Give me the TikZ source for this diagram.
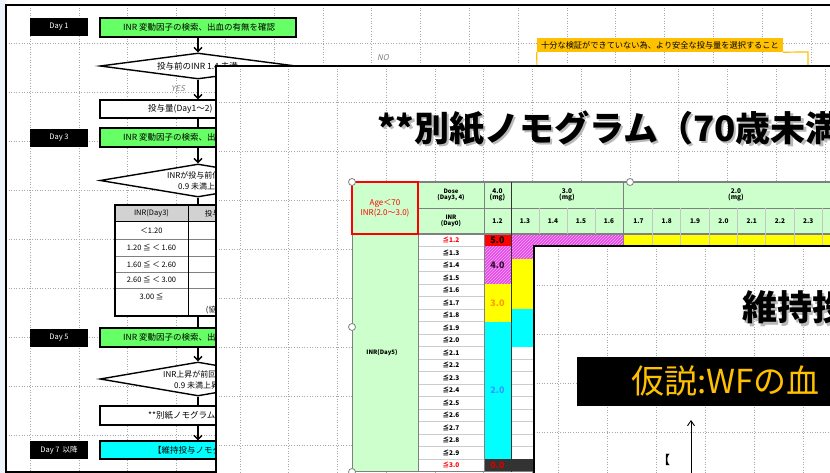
\documentclass[tikz,border=0pt]{standalone}
\usepackage{fontspec}
\setmainfont{Noto Sans CJK JP}
\newfontfamily\slantfont{Noto Sans CJK JP}[FakeSlant=0.22]
\usetikzlibrary{shapes.geometric,arrows.meta,patterns}
\newcommand\fsz[1]{\fontsize{#1}{#1}\selectfont}
\definecolor{lgreen}{HTML}{66FF66}
\definecolor{tgreen}{HTML}{CCFFCC}
\definecolor{gold}{HTML}{FFC000}
\definecolor{mag}{HTML}{E648E6}
\definecolor{cyanc}{HTML}{00FFFF}
\definecolor{yel}{HTML}{FFFF00}
\definecolor{gridc}{HTML}{A8A8A8}
\definecolor{darkc}{HTML}{333333}
\definecolor{leftblue}{HTML}{EEF3FB}
\definecolor{tline}{HTML}{808080}
\definecolor{ored}{HTML}{FF9900}
\definecolor{bblue}{HTML}{3399FF}
\begin{document}
\begin{tikzpicture}[x=1pt,y=-1pt,
  daybox/.style={fill=black,text=white,minimum width=58pt,minimum height=18pt,inner sep=0pt,font=\fsz{7.5}},
  flowbox/.style={draw=black,line width=1.4pt,minimum width=196pt,minimum height=19pt,inner sep=0pt},
  greenbox/.style={flowbox,fill=lgreen},
  whitebox/.style={flowbox,fill=white},
  cyanbox/.style={flowbox,fill=cyanc},
  decision/.style={diamond,draw=black,line width=1.4pt,fill=white,minimum width=196pt,inner sep=0pt},
  ftxt/.style={font=\fsz{8.5},inner sep=0pt,anchor=west},
  ttxt/.style={font=\fsz{7.5},inner sep=0pt},
  flowarrow/.style={line width=1.4pt,-{Straight Barb[length=4pt,width=8pt]}},
  flowline/.style={line width=1.4pt},
  gridline/.style={gridc,dotted,line width=0.6pt},
  yn/.style={font=\fsz{8}\slantfont,text=gray,inner sep=0pt},
  rowlab/.style={font=\fsz{6.5}\bfseries,inner sep=0pt},
  hd/.style={font=\fsz{6.5}\bfseries,inner sep=0pt},
  val/.style={font=\fsz{9}\bfseries,inner sep=0pt},
  handle/.style={draw=gray,fill=white,line width=0.8pt},
  bigtitle/.style={font=\fsz{35}\bfseries,inner sep=0pt,anchor=west}
]
\useasboundingbox (0,0) rectangle (830,473);
\fill[white] (0,0) rectangle (830,473);
\fill[leftblue] (0,0) rectangle (6,473);

% ---------------- panel 1 : flowchart ----------------
\begin{scope}
\clip (6,5) rectangle (830,472);
\foreach \i in {0,...,16} \draw[gridline] ({30+48.8*\i},5) -- ({30+48.8*\i},472);
\foreach \i in {0,...,8} \draw[gridline] (6,{43+49*\i}) -- (830,{43+49*\i});
\end{scope}
\draw[line width=1.8pt] (835,5) -- (6,5) -- (6,472) -- (835,472);

\node[daybox] (d1) at (59,27) {Day 1};
\node[greenbox] (g1) at (198,27.5) {};
\node[ftxt] at (123,27.5) {INR 変動因子の検索、出血の有無を確認};

\node[decision,minimum height=26pt] (dm1) at (198,66) {};
\node[ftxt] at (157,66.5) {投与前のINR 1.4 未満};

\node[whitebox,minimum height=18pt] (w1) at (198,109) {};
\node[ftxt] at (148,109) {投与量(Day1～2)};

\node[daybox] (d3) at (59,138) {Day 3};
\node[greenbox] (g2) at (198,137.5) {};
\node[ftxt] at (123,137.5) {INR 変動因子の検索、出血の有無を確認};

\node[decision,minimum height=33pt] (dm2) at (198,180.5) {};
\node[ftxt,font=\fsz{8}] at (167,175) {INRが投与前値より};
\node[ftxt,font=\fsz{8}] at (178,186) {0.9 未満上昇};

% table (Day3)
\node[fill=white,minimum width=166pt,minimum height=111pt,inner sep=0pt] (tbl) at (198,260.5) {};
\fill[gray!35] (115,205) rectangle (281,222);
\draw[black,line width=1pt] (115,222) -- (281,222);
\foreach \y in {239,256,272,288} \draw[tline,line width=0.6pt] (115,\y) -- (281,\y);
\draw[black,line width=0.8pt] (188,205) -- (188,316);
\node[ttxt] at (151.5,213.5) {INR(Day3)};
\node[ttxt] at (216,213.5) {投与量};
\node[ttxt] at (151.5,231) {＜1.20};
\node[ttxt] at (151.5,247.5) {1.20 ≦ ＜ 1.60};
\node[ttxt] at (151.5,264) {1.60 ≦ ＜ 2.60};
\node[ttxt] at (151.5,280) {2.60 ≦ ＜ 3.00};
\node[ttxt] at (151.5,296) {3.00 ≦};
\node[ttxt] at (216,310) {(協議)};
\draw[line width=2pt] (tbl.north west) rectangle (tbl.south east);

\node[daybox] (d5) at (59,337.5) {Day 5};
\node[greenbox] (g3) at (198,337.5) {};
\node[ftxt] at (123,337.5) {INR 変動因子の検索、出血の有無を確認};

\node[decision,minimum height=34pt] (dm3) at (198,379) {};
\node[ftxt,font=\fsz{8}] at (163,374) {INR上昇が前回より};
\node[ftxt,font=\fsz{8}] at (174,385) {0.9 未満上昇};

\node[whitebox] (w2) at (198,415.5) {};
\node[ftxt] at (148,415.5) {**別紙ノモグラム(70歳未満)};

\node[daybox] (d7) at (59,450) {Day 7\, 以降};
\node[cyanbox,minimum height=18pt] (c1) at (198,450) {};
\node[ftxt] at (153,450) {【維持投与ノモグラム】};

\draw[flowarrow] (g1.south) -- (dm1.north);
\draw[flowarrow] (dm1.south) -- (w1.north);
\draw[flowline] (w1.south) -- (g2.north);
\draw[flowarrow] (g2.south) -- (dm2.north);
\draw[flowline] (dm2.south) -- (tbl.north);
\draw[flowline] (tbl.south) -- (g3.north);
\draw[flowarrow] (g3.south) -- (dm3.north);
\draw[flowline] (dm3.south) -- (w2.north);
\draw[flowarrow] (w2.south) -- (c1.north);

\node[yn] at (178,89) {YES};
\node[yn] at (383,58) {NO};

% warning box
\node[fill=gold,minimum width=246pt,minimum height=14pt,inner sep=0pt,font=\fsz{8.2}] (warn) at (660,45) {十分な検証ができていない為、より安全な投与量を選択すること};
\coordinate (wbl) at (537,90);
\coordinate (wtr) at (808,52);
\coordinate (wbr) at (808,90);
\draw[gold,line width=1.2pt] (warn.south west) -- (wbl);
\draw[gold,line width=1.2pt] (warn.south east) -- (wtr) -- (wbr);

% ---------------- panel 2 : nomogram ----------------
\begin{scope}
\clip (216,66) rectangle (830,473);
\fill[white] (216,66) rectangle (830,473);
\foreach \i in {0,...,12} \draw[gridline] ({240+48.75*\i},66) -- ({240+48.75*\i},473);
\foreach \i in {0,...,7} \draw[gridline] (216,{102+49*\i}) -- (830,{102+49*\i});

\node[bigtitle,text=gray!55] at (379.5,130.5) {**別紙ノモグラム（70歳未満）};
\node[bigtitle] (t2) at (377,128) {**別紙ノモグラム（70歳未満）};

% table fills
\fill[tgreen] (352,182) rectangle (830,234);
\fill[tgreen] (352,234) rectangle (418,472);
\fill[white] (418,234) rectangle (534,472);
\foreach \k in {1,...,18} \draw[gray!40,line width=0.5pt] (418,{234+12.5*\k}) -- (534,{234+12.5*\k});
% row 0
\fill[yel] (623,234) rectangle (830,246.5);
\fill[mag] (511,234) rectangle (623,246.5);
\fill[pattern=north east lines,pattern color=white!55!mag] (511,234) rectangle (623,246.5);
% column 4.0
\fill[red] (484,234) rectangle (511,246.5);
\fill[mag] (484,246.5) rectangle (511,284);
\fill[pattern=north east lines,pattern color=white!55!mag] (484,246.5) rectangle (511,284);
\fill[yel] (484,284) rectangle (511,321.5);
\fill[cyanc] (484,321.5) rectangle (511,459);
\fill[darkc] (484,459) rectangle (534,471.5);
% column 1.3
\fill[mag] (511,246.5) rectangle (534,259);
\fill[pattern=north east lines,pattern color=white!55!mag] (511,246.5) rectangle (534,259);
\fill[yel] (511,259) rectangle (534,309);
\fill[cyanc] (511,309) rectangle (534,346.5);

% table lines
\draw[tline,line width=1.5pt] (352,182) -- (830,182);
\draw[tline,line width=0.8pt] (418,208) -- (830,208);
\draw[tline,line width=1.2pt] (352,234) -- (830,234);
\draw[tline,line width=1pt] (352,471.5) -- (534,471.5);
\draw[tline,line width=1pt] (352,182) -- (352,472);
\draw[tline,line width=1pt] (418,182) -- (418,472);
\draw[tline,line width=1pt] (484,182) -- (484,472);
\draw[darkc,line width=1pt] (511,182) -- (511,472);
\draw[tline,line width=1pt] (623,182) -- (623,246.5);
\foreach \x in {539,567,595} \draw[gray!45,line width=0.5pt] (\x,208) -- (\x,234);
\foreach \i in {1,...,7} \draw[gray!45,line width=0.5pt] ({624+28.3*\i},208) -- ({624+28.3*\i},246.5);

% red corner box
\draw[red,line width=2pt] (352,182) rectangle (418,234);
\node[font=\fsz{8},text=red,align=center,inner sep=0pt] (agebox) at (385,208) {Age＜70\\INR(2.0～3.0)};

% headers
\node[hd,align=center,font=\fsz{6}\bfseries] at (451,195) {Dose\\(Day3, 4)};
\node[hd,align=center,font=\fsz{6}\bfseries] at (451,221) {INR\\(Day0)};
\node[hd,align=center] at (497.5,195) {4.0\\(mg)};
\node[hd,align=center] at (567,195) {3.0\\(mg)};
\node[hd,align=center] at (736,195) {2.0\\(mg)};
\node[hd] at (497.5,221) {1.2};
\foreach \v [count=\i from 0] in {1.3,1.4,1.5,1.6} \node[hd] at ({525+28*\i},221) {\v};
\foreach \v [count=\i from 0] in {1.7,1.8,1.9,2.0,2.1,2.2,2.3,2.4} \node[hd] at ({638.5+28.3*\i},221) {\v};

% row labels
\foreach \lab [count=\k from 0] in {1.2,1.3,1.4,1.5,1.6,1.7,1.8,1.9,2.0,2.1,2.2,2.3,2.4,2.5,2.6,2.7,2.8,2.9,3.0} {
  \ifnum\k=0 \def\rc{red}\else\ifnum\k=18 \def\rc{red}\else\def\rc{black}\fi\fi
  \node[rowlab,text=\rc] at (451,{240.25+12.5*\k}) {≦\lab};
}
\node[rowlab,font=\fsz{6}\bfseries] at (382,353) {INR(Day5)};

% dose values
\node[val,text=black] at (497.5,240.5) {5.0};
\node[val,text=black!80!mag] at (497.5,265.5) {4.0};
\node[val,text=ored] at (497.5,303) {3.0};
\node[val,text=bblue] at (497.5,390.5) {2.0};
\node[val,text=red!85!black] at (497.5,465.5) {0.0};

% selection handles
\draw[handle] (352,182) circle (3.5);
\draw[handle] (630,182) circle (3.5);
\draw[handle] (352,327) circle (3.5);
\draw[handle] (352,472) circle (3.5);
\end{scope}
\draw[line width=2.5pt] (216,474) -- (216,66) -- (832,66);

% ---------------- panel 3 : maintenance ----------------
\begin{scope}
\clip (534,246) rectangle (830,473);
\fill[white] (534,246) rectangle (830,473);
\foreach \i in {0,...,5} \draw[gridline] ({558+49*\i},246) -- ({558+49*\i},473);
\foreach \i in {0,...,3} \draw[gridline] (534,{285+49*\i}) -- (830,{285+49*\i});
\node[bigtitle,text=gray!55] at (744.5,309.5) {維持投与ノモグラム};
\node[bigtitle] (t3) at (742,307) {維持投与ノモグラム};
\node[fill=black,minimum width=270pt,minimum height=49pt,inner sep=0pt,anchor=north west] (ban) at (577,357) {};
\node[font=\fsz{33},text=gold,inner sep=0pt,anchor=west] (hyp) at (631,381) {仮説:WFの血};
\coordinate (arrbot) at (691,474);
\coordinate (arrtop) at (691,420);
\draw[line width=0.9pt,-{Straight Barb[length=5pt,width=7pt]}] (arrbot) -- (arrtop);
\node[font=\fsz{12}\bfseries,inner sep=0pt] (brk) at (664,460) {【};
\end{scope}
\draw[line width=2.5pt] (534,474) -- (534,246) -- (832,246);
\end{tikzpicture}
\end{document}
